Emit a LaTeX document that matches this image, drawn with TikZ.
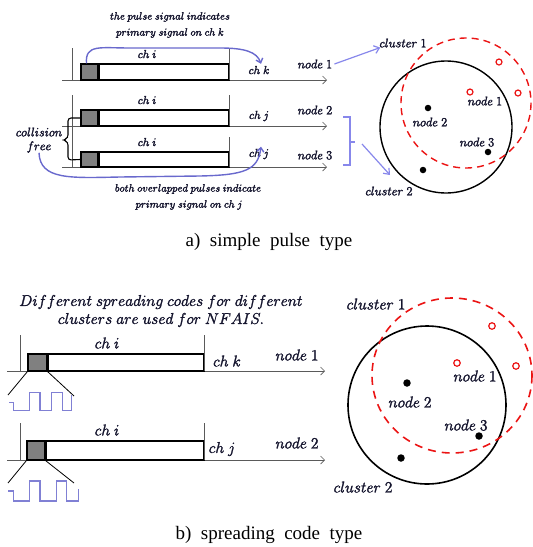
\RequirePackage{fix-cm}
\documentclass[tikz,border=0pt]{standalone}
\usepackage{fontspec}
\setmainfont{Liberation Serif}
\usetikzlibrary{arrows.meta,calc}
\definecolor{curveblue}{RGB}{105,105,205}
\definecolor{lightblue}{RGB}{135,135,235}
\definecolor{axisgray}{RGB}{90,90,90}
\definecolor{pulsegray}{RGB}{128,128,128}
\definecolor{tred}{RGB}{235,20,20}
\definecolor{txt}{RGB}{20,20,45}
\newcommand{\heavy}[1]{\special{pdf:literal direct 2 Tr 0.28 w}#1\special{pdf:literal direct 0 Tr}}
\tikzset{
  lbl/.style={font=\fontsize{12.5}{14}\selectfont, inner sep=0pt, text=txt},
  lbls/.style={font=\fontsize{10.6}{13}\selectfont, inner sep=0pt, text=txt},
  lblc/.style={font=\fontsize{11.5}{13}\selectfont, inner sep=0pt, text=txt},
  lblb/.style={font=\fontsize{15.6}{17}\selectfont, inner sep=0pt, text=txt},
  captext/.style={font=\fontsize{19}{22}\selectfont, inner sep=0pt},
  pulsebox/.style={draw=black, fill=pulsegray, line width=1.3pt, inner sep=0pt},
  slotbox/.style={draw=black, fill=white, line width=1.3pt, inner sep=0pt},
  axisline/.style={draw=axisgray, line width=0.7pt, -{Straight Barb[length=4pt,width=8pt]}},
  tickline/.style={draw=axisgray, line width=0.7pt},
  curvearrow/.style={draw=curveblue, line width=1.4pt, -{Straight Barb[length=4pt,width=7pt]}},
  bluearrow/.style={draw=lightblue, line width=1.2pt, -{Straight Barb[length=5pt,width=8pt]}},
  reddot/.style={circle, draw=tred, line width=1.2pt, minimum size=6pt, inner sep=0pt},
  blackdot/.style={circle, fill=black, minimum size=6.5pt, inner sep=0pt},
  wave/.style={draw=curveblue!85!white, line width=1.3pt},
}
\begin{document}
\begin{tikzpicture}[x=1pt,y=-1pt]
\useasboundingbox (0,0) rectangle (533,547);
% ================= panel a =================
% row 1
\draw[tickline] (72,48) -- (72,80);
\draw[axisline] (62,80) -- (327,80);
\node[slotbox, minimum width=131pt, minimum height=16pt] (s1) at (163.5,72) {};
\node[pulsebox, minimum width=17pt, minimum height=16pt] (p1) at (89.5,72) {};
\draw[black, line width=1.8pt] (p1.north east) -- (p1.south east);
\draw[tickline] (229,48) -- (229,80);
\node[lblc] (ci1) at (147,54) {\heavy{$ch\ i$}};
\node[lblc] (ck1) at (259,70) {\heavy{$ch\ k$}};
\node[lbl] (n1) at (315,64) {\heavy{$node\ 1$}};
% rows 2 and 3
\draw[tickline] (72,95) -- (72,167);
\draw[axisline] (62,126) -- (327,126);
\node[slotbox, minimum width=131pt, minimum height=16pt] (s2) at (163.5,118) {};
\node[pulsebox, minimum width=17pt, minimum height=16pt] (p2) at (89.5,118) {};
\draw[black, line width=1.8pt] (p2.north east) -- (p2.south east);
\draw[tickline] (229,95) -- (229,126);
\node[lblc] (ci2) at (147,100) {\heavy{$ch\ i$}};
\node[lblc] (cj2) at (259,116) {\heavy{$ch\ j$}};
\node[lbl] (n2) at (315,110) {\heavy{$node\ 2$}};
\draw[axisline] (62,167) -- (327,167);
\node[slotbox, minimum width=131pt, minimum height=15pt] (s3) at (163.5,159.5) {};
\node[pulsebox, minimum width=17pt, minimum height=15pt] (p3) at (89.5,159.5) {};
\draw[black, line width=1.8pt] (p3.north east) -- (p3.south east);
\draw[tickline] (229,137) -- (229,167);
\node[lblc] (ci3) at (147,142) {\heavy{$ch\ i$}};
\node[lblc] (cj3) at (259,154) {\heavy{$ch\ j$}};
\node[lbl] (n3) at (315,155) {\heavy{$node\ 3$}};
% brace
\draw[black, line width=1.1pt, rounded corners=3pt] (p2.west) -- (68,118) -- (68,138) -- (63,140) -- (68,142) -- (68,160) -- (p3.west);
\node[lbl] (col) at (39,132) {\heavy{$collision$}};
\node[lbl] (fr) at (39,147) {\heavy{$free$}};
% annotations
\node[lbls] (t1) at (170,17) {\heavy{$the\ pulse\ signal\ indicates$}};
\node[lbls] (t2) at (170,33) {\heavy{$primary\ signal\ on\ ch\ k$}};
\node[lbls] (b1) at (188,189) {\heavy{$both\ overlapped\ pulses\ indicate$}};
\node[lbls] (b2) at (189,205) {\heavy{$primary\ signal\ on\ ch\ j$}};
\draw[curvearrow] ([xshift=-3pt]p1.north) .. controls (85,44) and (100,48) .. (130,48) -- (220,48) .. controls (245,48) and (257,52) .. ([xshift=2pt,yshift=2pt]ck1.north);
\draw[curvearrow] (fr.south) .. controls (40,180) and (70,178) .. (120,177) -- (200,176) .. controls (245,175) and (258,170) .. ([xshift=2pt,yshift=2pt]cj3.north);
% clusters a
\draw[black, line width=1.4pt] (446,127) circle[radius=66];
\draw[tred, line width=1.4pt, dash pattern=on 7pt off 5pt] (466,103) circle[radius=65];
\node[reddot] (r1) at (499,62) {};
\node[reddot] (r2) at (518,93) {};
\node[reddot] (r3) at (470,92) {};
\node[blackdot] (d1) at (428,108) {};
\node[blackdot] (d2) at (488,152) {};
\node[blackdot] (d3) at (423,170) {};
\node[lbl] (cn1) at (485,101) {\heavy{$node\ 1$}};
\node[lbl] (cn2) at (430,122) {\heavy{$node\ 2$}};
\node[lbl] (cn3) at (477,142) {\heavy{$node\ 3$}};
\node[lbl] (cl1) at (403,43) {\heavy{$cluster\ 1$}};
\node[lbl] (cl2) at (389,191) {\heavy{$cluster\ 2$}};
\draw[bluearrow] ([xshift=2pt]n1.east) -- ([xshift=1pt]cl1.south west);
\draw[lightblue, line width=1.2pt] (343,117) -- (350,117) -- (350,165) -- (343,165);
\draw[lightblue, line width=1.2pt] (350,142) -- (355,142);
\coordinate (br) at (362,144);
\draw[bluearrow] (br) -- (390,175);
\node[captext] (capa) at (269,242) {a)\ \ simple\ \ pulse\ \ type};
% ================= panel b =================
\node[lblb] (d1t) at (161,302) {\heavy{$Different\ spreading\ codes\ for\ different$}};
\node[lblb] (d2t) at (161,320) {\heavy{$clusters\ are\ used\ for\ NFAIS.$}};
% row 1
\draw[tickline] (20,335) -- (20,371);
\draw[axisline] (7,371) -- (325,371);
\node[slotbox, minimum width=156pt, minimum height=17pt] (bs1) at (126,362.5) {};
\node[pulsebox, minimum width=19pt, minimum height=17pt] (bp1) at (37.5,362.5) {};
\draw[black, line width=2pt] (bp1.north east) -- (bp1.south east);
\draw[tickline] (204,335) -- (204,371);
\node[lblb] (bci1) at (107,343) {\heavy{$ch\ i$}};
\node[lblb] (bck1) at (227,361) {\heavy{$ch\ k$}};
\node[lblb] (bn1) at (297,355) {\heavy{$node\ 1$}};
\draw[black, line width=0.8pt] (bp1.south west) -- (8,395);
\draw[black, line width=0.8pt] (bp1.south east) -- (74,396);
\draw[wave] (9.3,402.7) -- (13.3,402.7) -- (13.3,410.7) -- (29.3,410.7) -- (29.3,392.3) -- (40,392.3) -- (40,410.7) -- (51.7,410.7) -- (51.7,392.3) -- (62.7,392.3) -- (62.7,410.7) -- (71.7,410.7) -- (71.7,395);
% row 2
\draw[tickline] (20,423) -- (20,460);
\draw[axisline] (7,460) -- (325,460);
\node[slotbox, minimum width=159pt, minimum height=19pt] (bs2) at (124.5,450.5) {};
\node[pulsebox, minimum width=18pt, minimum height=19pt] (bp2) at (36,450.5) {};
\draw[black, line width=2pt] (bp2.north east) -- (bp2.south east);
\draw[tickline] (204,423) -- (204,460);
\node[lblb] (bci2) at (107,430) {\heavy{$ch\ i$}};
\node[lblb] (bcj2) at (222,449) {\heavy{$ch\ j$}};
\node[lblb] (bn2) at (297,443) {\heavy{$node\ 2$}};
\draw[black, line width=0.8pt] (bp2.south west) -- (8,483);
\draw[black, line width=0.8pt] (bp2.south east) -- (74,483);
\draw[wave] (8.3,491) -- (13.3,491) -- (13.3,501) -- (29.3,501) -- (29.3,481) -- (40,481) -- (40,501) -- (56.7,501) -- (56.7,481) -- (66.7,481) -- (66.7,501) -- (78.3,501) -- (78.3,489.3);
% clusters b
\draw[black, line width=1.6pt] (427,405) circle[radius=79];
\draw[tred, line width=1.6pt, dash pattern=on 8pt off 6pt] (452,375.5) circle[x radius=80, y radius=77.5];
\node[reddot, minimum size=6.5pt] (br1) at (492,326) {};
\node[reddot, minimum size=6.5pt] (br2) at (516,366) {};
\node[reddot, minimum size=6.5pt] (br3) at (457,363) {};
\node[blackdot, minimum size=7.5pt] (bd1) at (407,383) {};
\node[blackdot, minimum size=7.5pt] (bd2) at (479,436) {};
\node[blackdot, minimum size=7.5pt] (bd3) at (401,458) {};
\node[lblb] (bcn1) at (475,376) {\heavy{$node\ 1$}};
\node[lblb] (bcn2) at (410,402) {\heavy{$node\ 2$}};
\node[lblb] (bcn3) at (466,425) {\heavy{$node\ 3$}};
\node[lblb] (bcl1) at (376,304) {\heavy{$cluster\ 1$}};
\node[lblb] (bcl2) at (363,487) {\heavy{$cluster\ 2$}};
\node[captext] (capb) at (269,535) {b)\ \ spreading\ \ code\ \ type};
\end{tikzpicture}
\end{document}
